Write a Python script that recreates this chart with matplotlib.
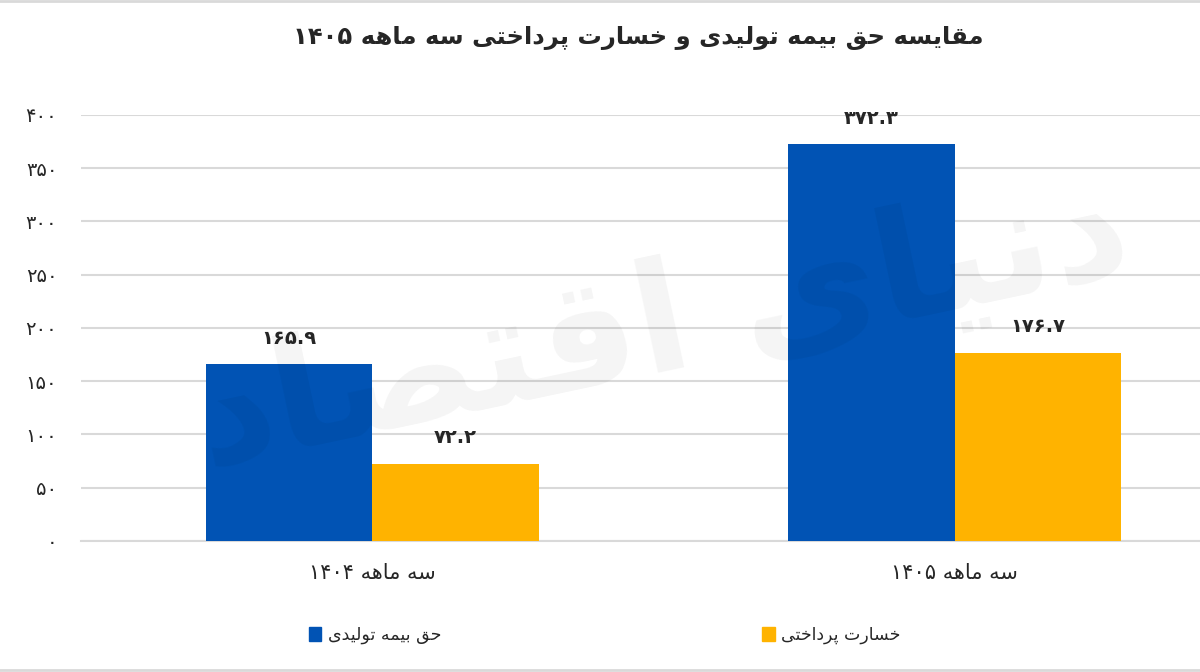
import re
import matplotlib
matplotlib.use("Agg")
from matplotlib import pyplot as plt
from matplotlib.patches import Patch
from matplotlib.ticker import FuncFormatter

# داده‌ها
categories = ["سه ماهه ۱۴۰۴", "سه ماهه ۱۴۰۵"]
premium = [165.9, 372.3]        # حق بیمه تولیدی
claims = [72.2, 176.7]          # خسارت پرداختی
series_names = ["حق بیمه تولیدی", "خسارت پرداختی"]
title = "مقایسه حق بیمه تولیدی و خسارت پرداختی سه ماهه ۱۴۰۵"
watermark = "دنیای اقتصاد"
yticks = [0, 50, 100, 150, 200, 250, 300, 350, 400]

BLUE = "#0153B4"
ORANGE = "#FFB300"
TXT = "#262626"
GRID = "#d9d9d9"

# اشکال حروف: (جدا، پایانی، آغازی، میانی)
FORMS = {
    "ا": ("\uFE8D", "\uFE8E", None, None),
    "ب": ("\uFE8F", "\uFE90", "\uFE91", "\uFE92"),
    "پ": ("\uFB56", "\uFB57", "\uFB58", "\uFB59"),
    "ت": ("\uFE95", "\uFE96", "\uFE97", "\uFE98"),
    "ح": ("\uFEA1", "\uFEA2", "\uFEA3", "\uFEA4"),
    "خ": ("\uFEA5", "\uFEA6", "\uFEA7", "\uFEA8"),
    "د": ("\uFEA9", "\uFEAA", None, None),
    "ر": ("\uFEAD", "\uFEAE", None, None),
    "س": ("\uFEB1", "\uFEB2", "\uFEB3", "\uFEB4"),
    "ص": ("\uFEB9", "\uFEBA", "\uFEBB", "\uFEBC"),
    "ق": ("\uFED5", "\uFED6", "\uFED7", "\uFED8"),
    "ل": ("\uFEDD", "\uFEDE", "\uFEDF", "\uFEE0"),
    "م": ("\uFEE1", "\uFEE2", "\uFEE3", "\uFEE4"),
    "ن": ("\uFEE5", "\uFEE6", "\uFEE7", "\uFEE8"),
    "ه": ("\uFEE9", "\uFEEA", "\uFEEB", "\uFEEC"),
    "و": ("\uFEED", "\uFEEE", None, None),
    "ی": ("\uFBFC", "\uFBFD", "\uFBFE", "\uFBFF"),
}


def fa(s):
    return str(s).translate(str.maketrans("0123456789", "۰۱۲۳۴۵۶۷۸۹"))


def rtl(text):
    out = []
    for i, ch in enumerate(text):
        if ch not in FORMS:
            out.append(ch)
            continue
        prev = text[i - 1] if i > 0 else None
        nxt = text[i + 1] if i + 1 < len(text) else None
        jp = prev in FORMS and FORMS[prev][2] is not None
        jn = nxt in FORMS and FORMS[ch][2] is not None
        iso, fin, ini, med = FORMS[ch]
        if jp and jn:
            out.append(med)
        elif jp:
            out.append(fin)
        elif jn:
            out.append(ini)
        else:
            out.append(iso)
    vis = "".join(out)[::-1]
    # اعداد چپ به راست می‌مانند
    return re.sub(r"[۰-۹.]+", lambda m: m.group(0)[::-1], vis)


plt.rcParams["font.family"] = ["DejaVu Sans"]

fig = plt.figure(figsize=(12, 6.72), dpi=100)
ax = fig.add_axes([0.0675, 0.195, 0.9325, 0.634])

x = [0, 1]
w = 0.286
b1 = ax.bar([i - w / 2 for i in x], premium, w, color=BLUE, zorder=3)
b2 = ax.bar([i + w / 2 for i in x], claims, w, color=ORANGE, zorder=3)

for bars, vals in ((b1, premium), (b2, claims)):
    for r, v in zip(bars, vals):
        ax.annotate(fa(f"{v:.1f}"), (r.get_x() + r.get_width() / 2, v),
                    xytext=(0, 12), textcoords="offset points",
                    ha="center", va="bottom", fontsize=14, fontweight="bold", color=TXT)

ax.set_xlim(-0.5, 1.421)
ax.set_ylim(0, 400)
ax.set_yticks(yticks)
ax.yaxis.set_major_formatter(FuncFormatter(lambda v, p: fa(int(v))))
ax.set_xticks(x)
ax.set_xticklabels([rtl(c) for c in categories])
ax.tick_params(axis="y", length=0, pad=17, labelsize=14, labelcolor=TXT)
ax.tick_params(axis="x", length=0, pad=16, labelsize=15, labelcolor=TXT)
ax.grid(axis="y", color=GRID, linewidth=1.5, zorder=0)
for s in ("top", "right", "left"):
    ax.spines[s].set_visible(False)
ax.spines["bottom"].set_color(GRID)
ax.spines["bottom"].set_linewidth(1.5)

# نشان آب
ax.text(0.52, 0.5, rtl(watermark), transform=ax.transAxes, fontsize=110,
        color="#000000", alpha=0.045, ha="center", va="center", rotation=12,
        fontweight="bold", zorder=4)

fig.text(0.532, 0.943, rtl(title), ha="center", va="center",
         fontsize=17.5, fontweight="bold", color=TXT)

handles = [Patch(color=BLUE), Patch(color=ORANGE)]
fig.legend(handles, [rtl(n) for n in series_names], loc="center",
           bbox_to_anchor=(0.504, 0.055), ncol=2, frameon=False, fontsize=12.5,
           handlelength=0.7, handleheight=0.9, handletextpad=0.4,
           columnspacing=18.5, labelcolor=TXT)

# خطوط حاشیه بالا و پایین
fig.add_artist(plt.Line2D([0, 1], [0.998, 0.998], color=GRID, linewidth=2))
fig.add_artist(plt.Line2D([0, 1], [0.003, 0.003], color=GRID, linewidth=2))

fig.savefig("out.png", dpi=100)
